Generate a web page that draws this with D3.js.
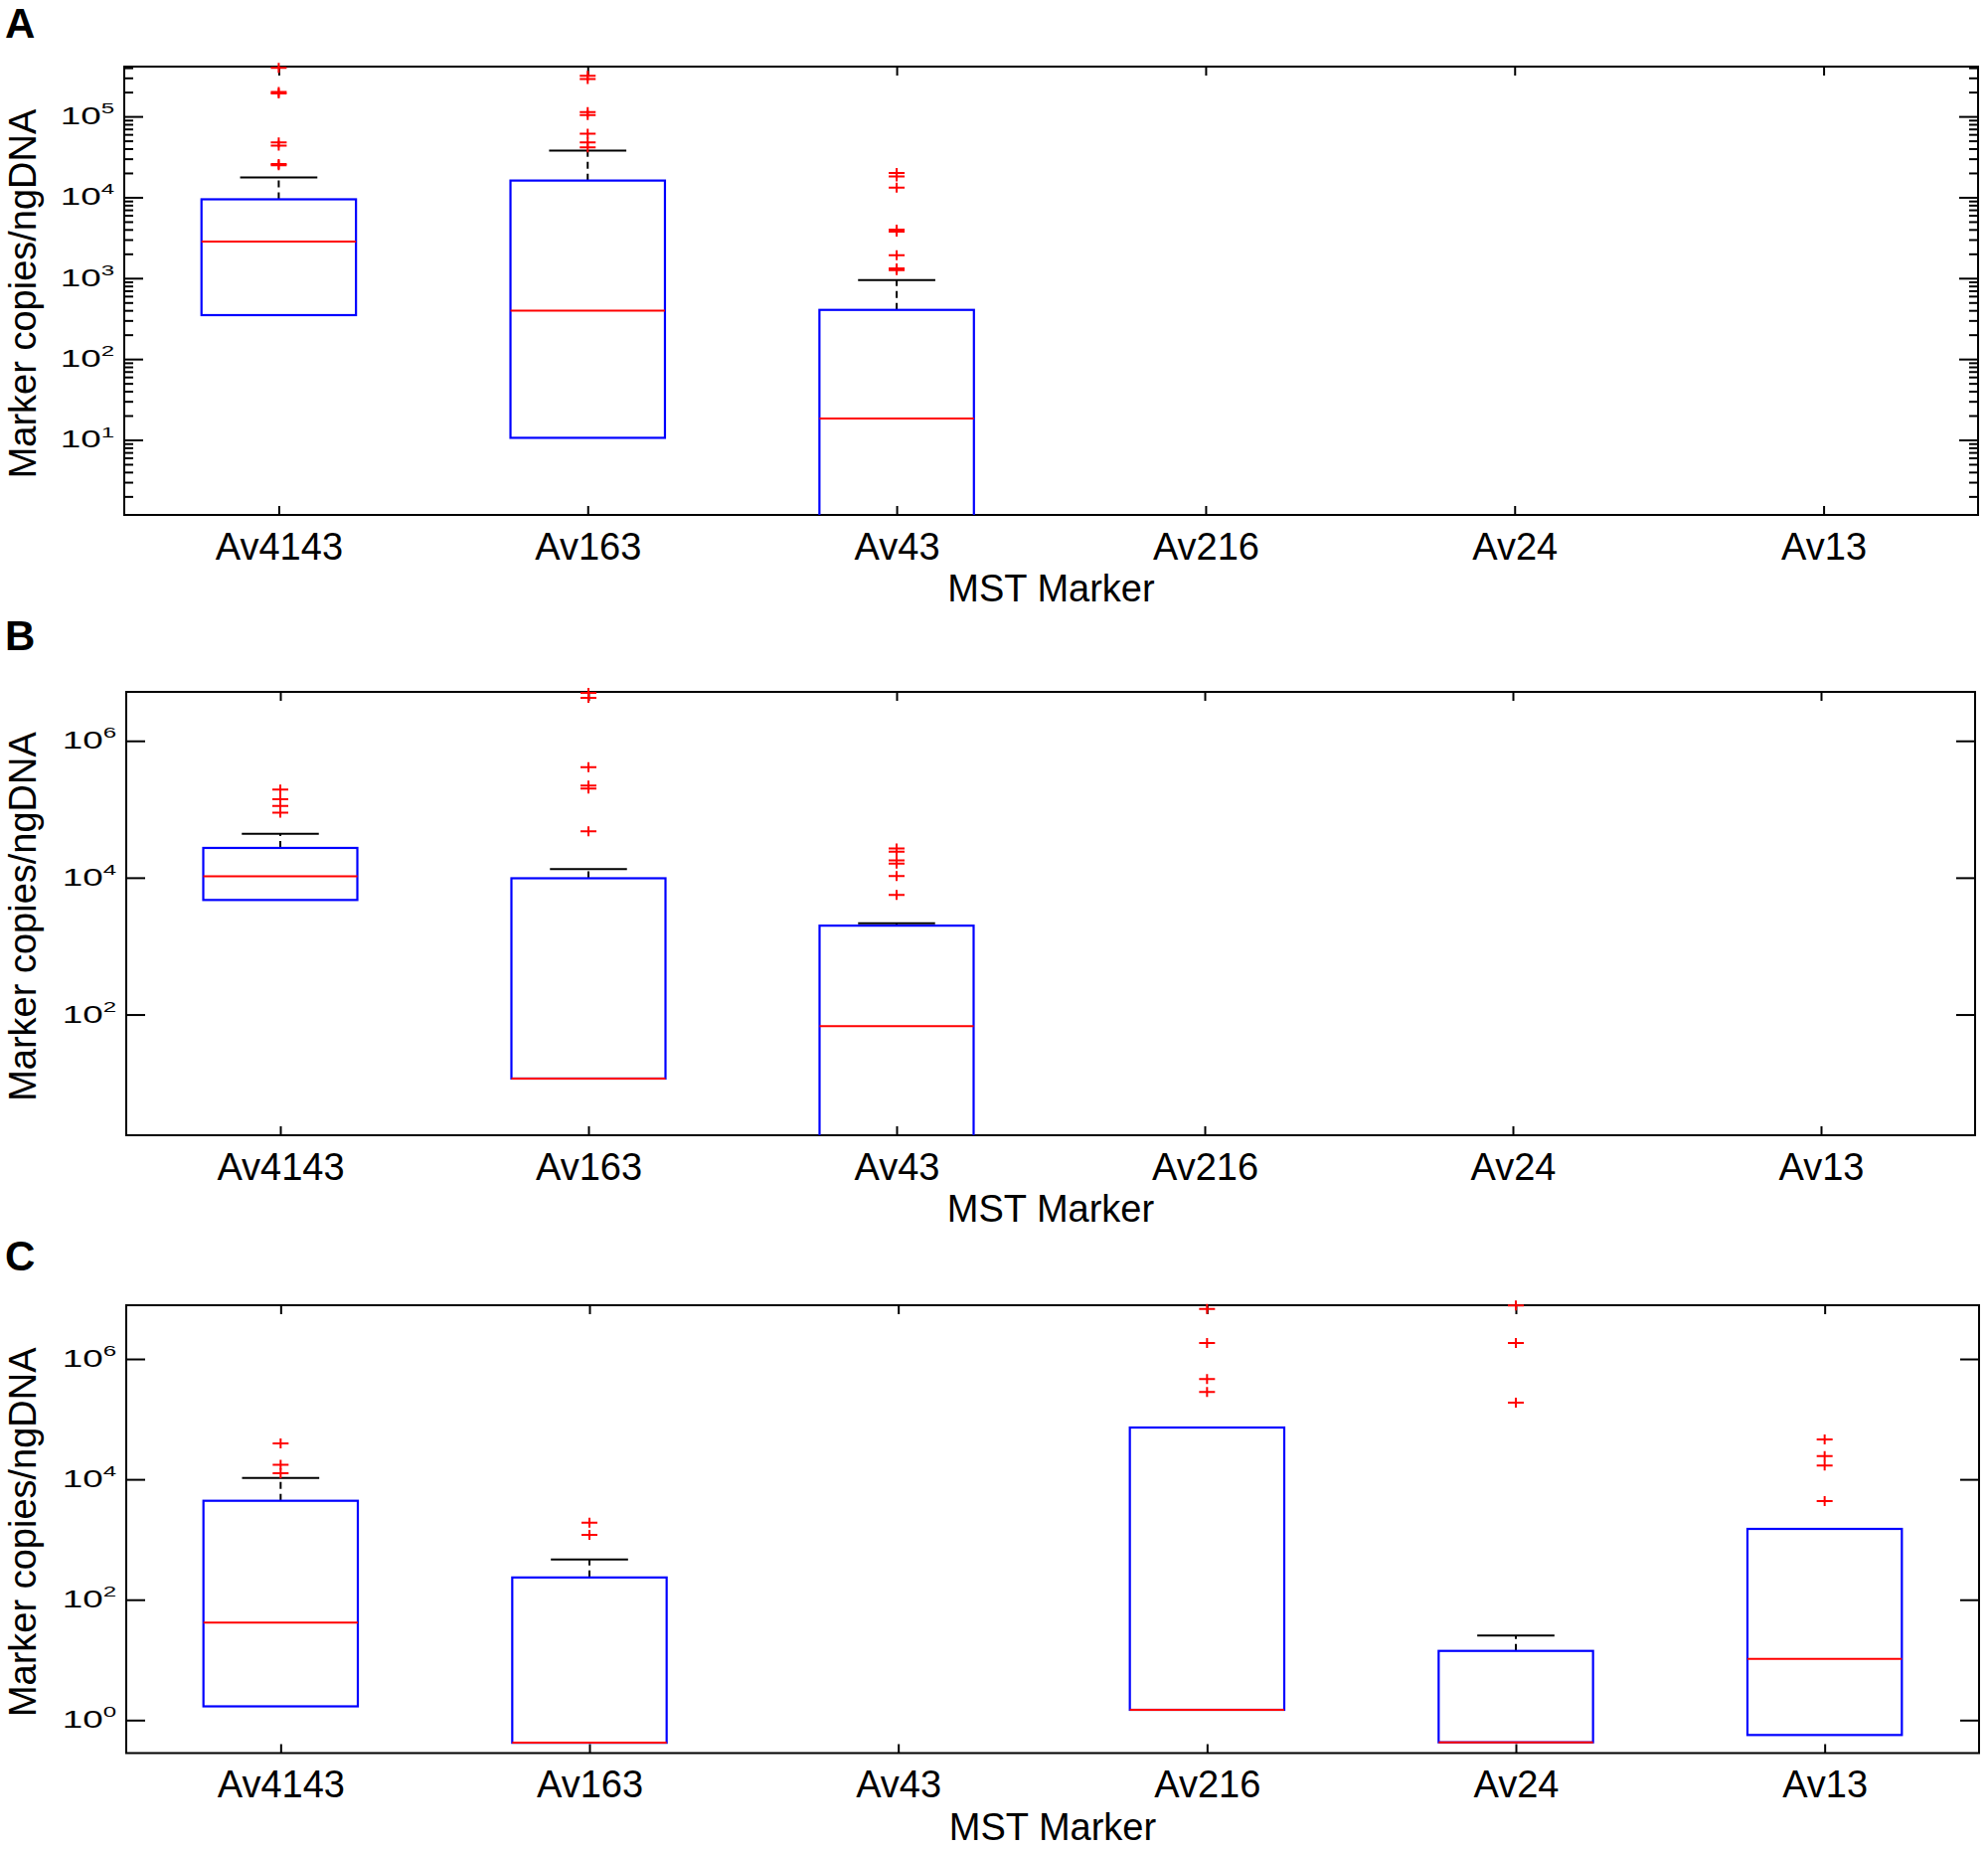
<!DOCTYPE html>
<html>
<head>
<meta charset="utf-8">
<script src="https://cdn.jsdelivr.net/npm/d3@7"></script>
<style>
  body { margin: 0; background: #fff; }
  text { font-family: "Liberation Sans", Arial, sans-serif; }
</style>
</head>
<body>
<div id="chart"></div>
<script>
const markers = ["Av4143", "Av163", "Av43", "Av216", "Av24", "Av13"];

// Panel A
const aQ1 = [349, 10.6, 0.5, null, null, null];
const aMedian = [2838, 396, 18.4, null, null, null];
const aQ3 = [9440, 16100, 405, null, null, null];
const aWhisker = [17620, 37700, 946, null, null, null];
const aOutliers = [
  [4.0e5, 2.0e5, 1.93e5, 47700, 43600, 25760, 24950],
  [3.17e5, 2.9e5, 1.13e5, 1.04e5, 61100, 47700, 41300],
  [19950, 18160, 13150, 3975, 3755, 1920, 1318, 1256],
  [], [], []
];
const aTicks = [1e1, 1e2, 1e3, 1e4, 1e5];

// Panel B
const bQ1 = [4720, 11.6, 0.5, null, null, null];
const bMedian = [10440, 11.6, 67.8, null, null, null];
const bQ3 = [27200, 9800, 1990, null, null, null];
const bWhisker = [43700, 13340, 2160, null, null, null];
const bOutliers = [
  [1.94e5, 1.40e5, 1.12e5, 88900],
  [5.04e6, 4.26e6, 4.12e5, 2.22e5, 2.0e5, 47500],
  [26800, 24000, 17950, 16000, 10590, 5580],
  [], [], []
];
const bTicks = [1e2, 1e4, 1e6];

// Panel C
const cQ1 = [1.69, 0.42, null, 1.48, 0.427, 0.565];
const cMedian = [41.5, 0.42, null, 1.48, 0.427, 10.4];
const cQ3 = [4400, 234, null, 72500, 14.1, 1500];
const cWhisker = [10550, 468, null, 72500, 25.3, 1500];
const cOutliers = [
  [39600, 17500, 12600],
  [1897, 1189],
  [],
  [6.77e6, 1.84e6, 4.62e5, 2.82e5],
  [7.7e6, 1.84e6, 1.88e5],
  [45900, 24400, 16900, 4350]
];
const cTicks = [1e0, 1e2, 1e4, 1e6];

const panels = [
  { label: "A", labelY: 38, top: 67, bottom: 518, left: 125, right: 1990, yDomain: [1.18, 4.13e5],
    q1: aQ1, med: aMedian, q3: aQ3, wh: aWhisker, out: aOutliers, ticks: aTicks, minor: true },
  { label: "B", labelY: 654, top: 696, bottom: 1142, left: 127, right: 1987, yDomain: [1.72, 5.19e6],
    q1: bQ1, med: bMedian, q3: bQ3, wh: bWhisker, out: bOutliers, ticks: bTicks, minor: false },
  { label: "C", labelY: 1278, top: 1313, bottom: 1763.5, left: 127, right: 1991, yDomain: [0.283, 7.8e6],
    q1: cQ1, med: cMedian, q3: cQ3, wh: cWhisker, out: cOutliers, ticks: cTicks, minor: false }
];

const svg = d3.select("#chart").append("svg")
  .attr("width", 2000)
  .attr("height", 1860);

panels.forEach((p, pi) => {
  const x = d3.scaleLinear().domain([0.5, 6.5]).range([p.left, p.right]);
  const y = d3.scaleLog().domain(p.yDomain).range([p.bottom, p.top]);
  const g = svg.append("g");
  const clipId = "clip" + pi;

  svg.append("clipPath").attr("id", clipId)
    .append("rect")
    .attr("x", p.left).attr("y", p.top)
    .attr("width", p.right - p.left).attr("height", p.bottom - p.top);

  // panel letter
  g.append("text")
    .attr("x", 5).attr("y", p.labelY)
    .attr("font-size", 42).attr("font-weight", "bold")
    .text(p.label);

  // x axes (ticks inside)
  const xIdx = d3.range(1, markers.length + 1);
  const xb = g.append("g").attr("transform", `translate(0,${p.bottom})`)
    .call(d3.axisBottom(x).tickValues(xIdx).tickSize(-9).tickPadding(18)
      .tickFormat(d => markers[d - 1]));
  xb.selectAll("text").attr("font-size", 38).attr("fill", "#000");
  g.append("g").attr("transform", `translate(0,${p.top})`)
    .call(d3.axisTop(x).tickValues(xIdx).tickSize(-9).tickFormat(""));

  // y axes, left and right
  const minorVals = p.minor ? y.ticks().filter(v => Math.abs(Math.log10(v) % 1) > 1e-6) : [];
  g.append("g").attr("transform", `translate(${p.left},0)`)
    .call(d3.axisLeft(y).tickValues(p.ticks).tickSize(-19).tickFormat(""));
  g.append("g").attr("transform", `translate(${p.right},0)`)
    .call(d3.axisRight(y).tickValues(p.ticks).tickSize(-19).tickFormat(""));
  if (p.minor) {
    g.append("g").attr("transform", `translate(${p.left},0)`)
      .call(d3.axisLeft(y).tickValues(minorVals).tickSize(-9).tickFormat(""));
    g.append("g").attr("transform", `translate(${p.right},0)`)
      .call(d3.axisRight(y).tickValues(minorVals).tickSize(-9).tickFormat(""));
  }
  g.selectAll(".domain").remove();
  g.selectAll(".tick line").attr("stroke", "#000").attr("stroke-width", 2);

  // y tick labels 10^n, drawn wide like the original
  p.ticks.forEach(t => {
    const lab = g.append("text")
      .attr("transform", `translate(${p.left - 10},${y(t) + 8}) scale(1.6,1)`)
      .attr("text-anchor", "end")
      .attr("font-size", 23);
    lab.append("tspan").text("10");
    lab.append("tspan").attr("font-size", 15).attr("dy", -11).text(Math.round(Math.log10(t)));
  });

  // frame
  g.append("rect")
    .attr("x", p.left).attr("y", p.top)
    .attr("width", p.right - p.left).attr("height", p.bottom - p.top)
    .attr("fill", "none").attr("stroke", "#000").attr("stroke-width", 2);

  // axis titles
  g.append("text")
    .attr("x", (p.left + p.right) / 2).attr("y", p.bottom + 87)
    .attr("text-anchor", "middle").attr("font-size", 38)
    .text("MST Marker");
  g.append("text")
    .attr("transform", `translate(36,${(p.top + p.bottom) / 2 + 3}) rotate(-90)`)
    .attr("text-anchor", "middle").attr("font-size", 38)
    .text("Marker copies/ngDNA");

  // boxes
  const plot = g.append("g").attr("clip-path", `url(#${clipId})`);
  const half = 0.25, capHalf = 0.125;
  markers.forEach((m, i) => {
    if (p.q3[i] == null) return;
    const c = i + 1;
    // upper whisker
    plot.append("line")
      .attr("x1", x(c)).attr("x2", x(c))
      .attr("y1", y(p.q3[i])).attr("y2", y(p.wh[i]))
      .attr("stroke", "#000").attr("stroke-width", 2)
      .attr("stroke-dasharray", "7,5");
    plot.append("line")
      .attr("x1", x(c - capHalf)).attr("x2", x(c + capHalf))
      .attr("y1", y(p.wh[i])).attr("y2", y(p.wh[i]))
      .attr("stroke", "#000").attr("stroke-width", 2);
    // box
    plot.append("rect")
      .attr("x", x(c - half)).attr("y", y(p.q3[i]))
      .attr("width", x(c + half) - x(c - half))
      .attr("height", y(p.q1[i]) - y(p.q3[i]))
      .attr("fill", "none").attr("stroke", "#0000ff").attr("stroke-width", 2.2);
    // median
    plot.append("line")
      .attr("x1", x(c - half)).attr("x2", x(c + half))
      .attr("y1", y(p.med[i])).attr("y2", y(p.med[i]))
      .attr("stroke", "#ff0000").attr("stroke-width", 2);
  });

  // outliers as + marks
  markers.forEach((m, i) => {
    g.selectAll(null).data(p.out[i]).enter()
      .append("path")
      .attr("d", v => {
        const cx = x(i + 1), cy = y(v);
        return `M${cx - 8},${cy}H${cx + 8}M${cx},${cy - 5}V${cy + 5}`;
      })
      .attr("stroke", "#ff0000").attr("stroke-width", 2).attr("fill", "none");
  });
});
</script>
</body>
</html>
